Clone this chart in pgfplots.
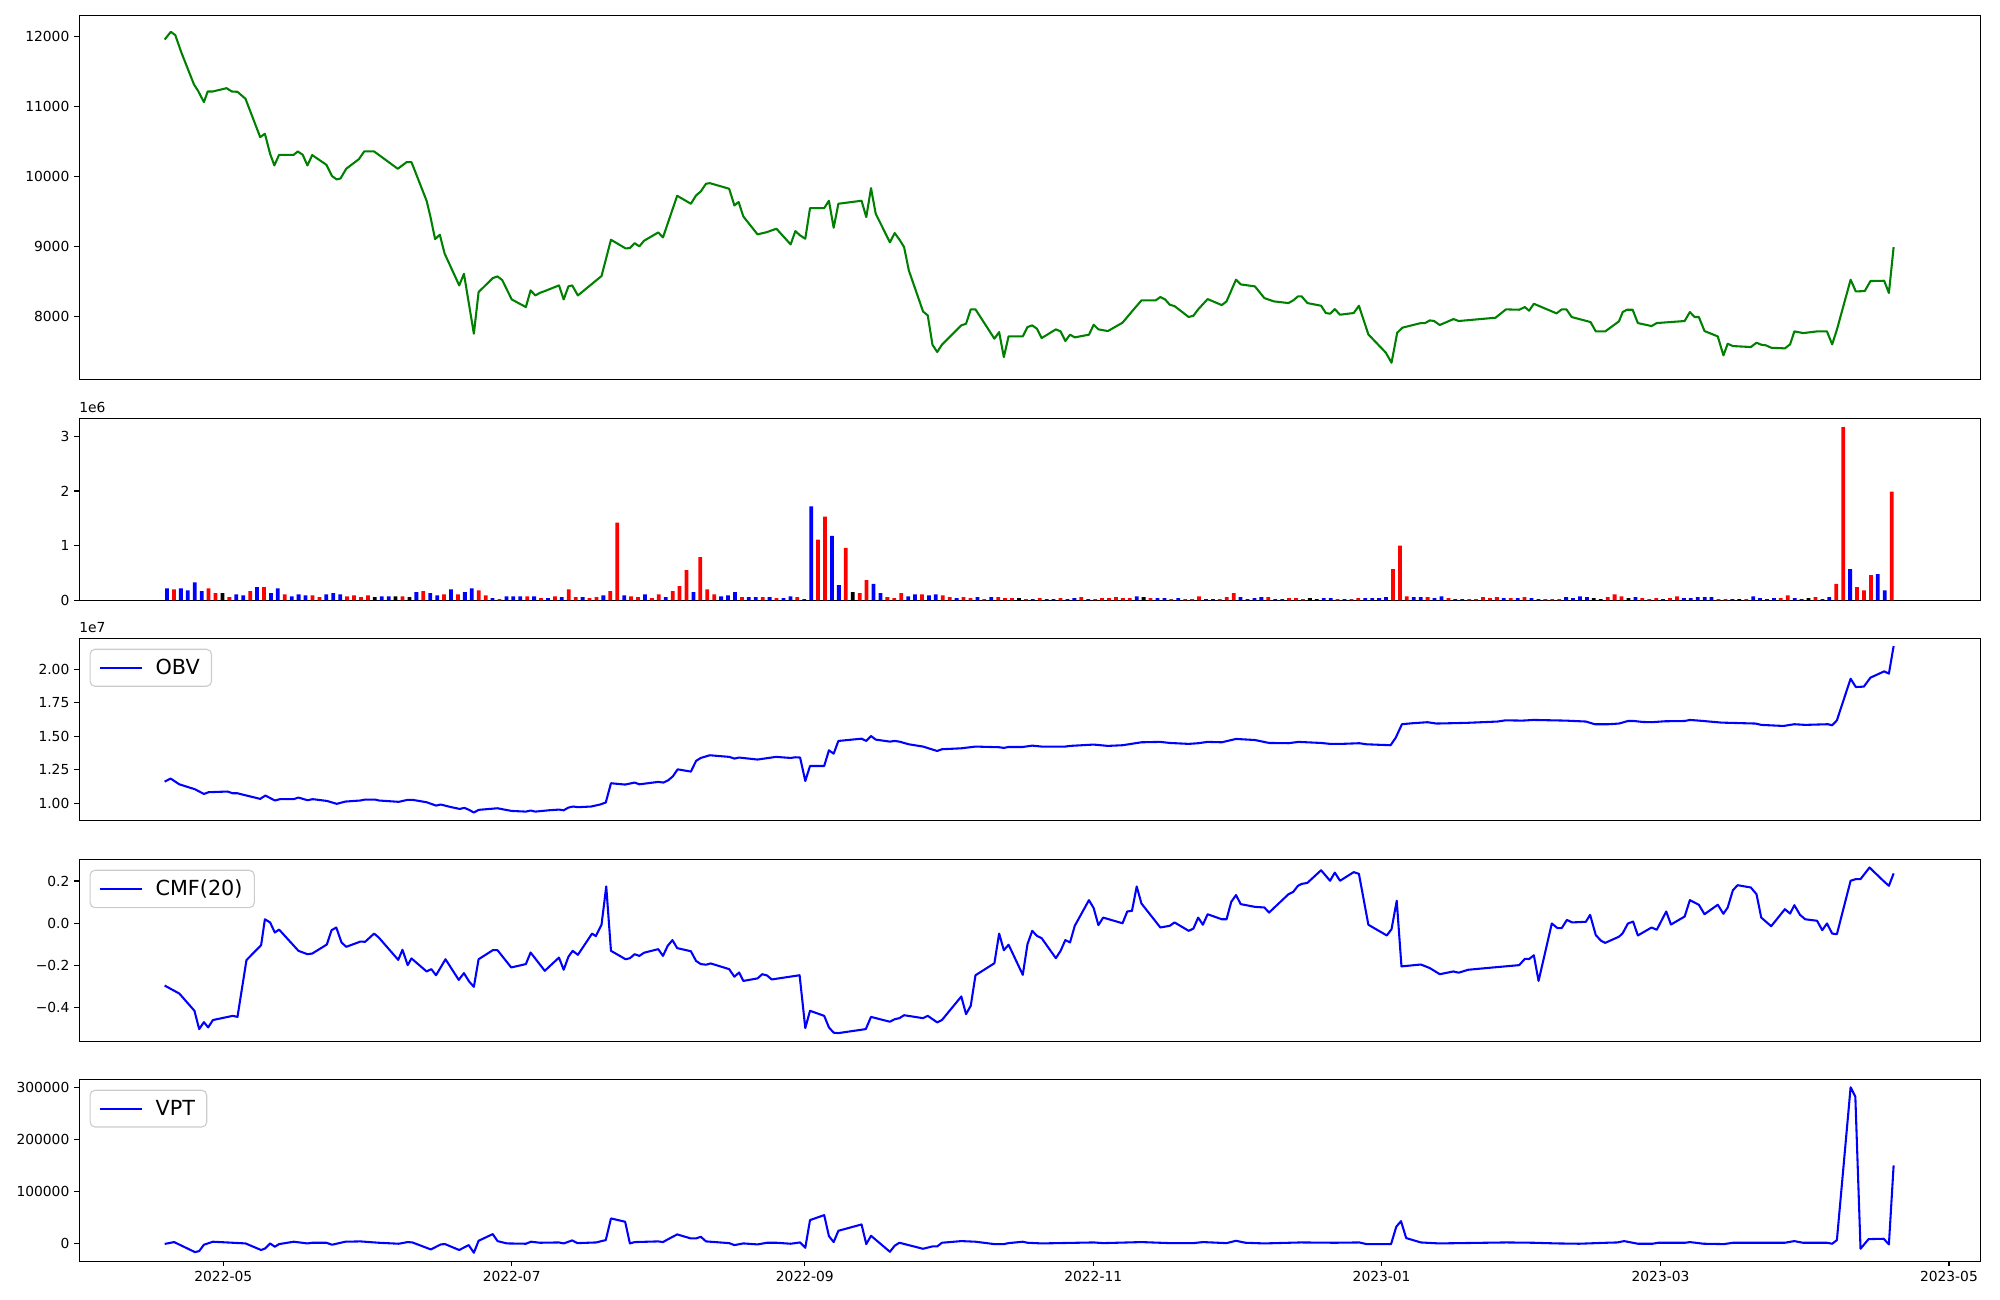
\documentclass[border=0pt]{standalone}
\usepackage{fontspec}
\setmainfont{DejaVu Sans}
\usepackage{pgfplots}
\usepackage{pgfplotstable}
\pgfplotsset{compat=1.18}

\definecolor{mplgreen}{RGB}{0,128,0}

% volume per trading day, c: 0 = up (red), 1 = down (blue), 2 = flat (black)
\pgfplotstableread[row sep=\\]{
v c\\
0.22 1\\ 0.20 0\\ 0.22 1\\ 0.18 1\\ 0.33 1\\ 0.17 1\\ 0.22 0\\ 0.13 0\\ 0.13 2\\ 0.06 0\\
0.11 1\\ 0.09 1\\ 0.17 0\\ 0.24 1\\ 0.24 0\\ 0.13 1\\ 0.22 1\\ 0.11 0\\ 0.07 1\\ 0.11 1\\
0.09 1\\ 0.09 0\\ 0.06 0\\ 0.11 1\\ 0.13 1\\ 0.11 1\\ 0.07 0\\ 0.09 0\\ 0.06 0\\ 0.09 0\\
0.06 2\\ 0.07 1\\ 0.07 1\\ 0.07 2\\ 0.07 0\\ 0.06 2\\ 0.15 1\\ 0.17 0\\ 0.13 1\\ 0.09 1\\
0.11 0\\ 0.20 1\\ 0.11 0\\ 0.15 1\\ 0.22 1\\ 0.18 0\\ 0.09 0\\ 0.04 1\\ 0.02 0\\ 0.07 1\\
0.07 1\\ 0.07 1\\ 0.07 0\\ 0.07 1\\ 0.04 0\\ 0.04 1\\ 0.07 0\\ 0.06 1\\ 0.20 0\\ 0.06 0\\
0.06 1\\ 0.04 0\\ 0.06 0\\ 0.09 1\\ 0.17 0\\ 1.42 0\\ 0.09 1\\ 0.07 0\\ 0.06 0\\ 0.11 1\\
0.04 0\\ 0.11 0\\ 0.06 1\\ 0.17 0\\ 0.26 0\\ 0.55 0\\ 0.15 1\\ 0.79 0\\ 0.20 0\\ 0.11 0\\
0.07 1\\ 0.09 1\\ 0.15 1\\ 0.06 0\\ 0.06 1\\ 0.06 1\\ 0.06 0\\ 0.06 1\\ 0.04 0\\ 0.04 1\\
0.07 1\\ 0.06 0\\ 0.02 1\\ 1.72 1\\ 1.11 0\\ 1.53 0\\ 1.18 1\\ 0.28 1\\ 0.96 0\\ 0.15 2\\
0.13 0\\ 0.37 0\\ 0.30 1\\ 0.13 1\\ 0.06 0\\ 0.04 0\\ 0.13 0\\ 0.07 1\\ 0.11 1\\ 0.11 0\\
0.09 1\\ 0.11 1\\ 0.09 0\\ 0.06 0\\ 0.04 1\\ 0.06 0\\ 0.04 0\\ 0.06 1\\ 0.02 0\\ 0.06 1\\
0.06 0\\ 0.04 0\\ 0.04 0\\ 0.04 2\\ 0.02 0\\ 0.02 1\\ 0.04 0\\ 0.02 1\\ 0.02 1\\ 0.04 0\\
0.02 1\\ 0.04 1\\ 0.06 0\\ 0.02 1\\ 0.02 0\\ 0.04 0\\ 0.04 0\\ 0.06 0\\ 0.04 0\\ 0.04 0\\
0.07 1\\ 0.06 2\\ 0.04 0\\ 0.04 1\\ 0.04 1\\ 0.02 0\\ 0.04 1\\ 0.02 0\\ 0.02 0\\ 0.07 0\\
0.02 1\\ 0.02 1\\ 0.02 0\\ 0.06 0\\ 0.13 0\\ 0.06 1\\ 0.02 1\\ 0.04 1\\ 0.06 1\\ 0.06 0\\
0.02 1\\ 0.02 1\\ 0.04 0\\ 0.04 0\\ 0.02 0\\ 0.04 2\\ 0.02 2\\ 0.04 1\\ 0.04 1\\ 0.02 0\\
0.02 1\\ 0.02 0\\ 0.04 0\\ 0.04 1\\ 0.04 1\\ 0.04 1\\ 0.06 1\\ 0.57 0\\ 1.00 0\\ 0.07 0\\
0.06 1\\ 0.06 1\\ 0.06 0\\ 0.04 1\\ 0.07 1\\ 0.04 0\\ 0.02 1\\ 0.02 1\\ 0.02 0\\ 0.02 0\\
0.06 0\\ 0.04 0\\ 0.06 0\\ 0.04 1\\ 0.04 0\\ 0.04 1\\ 0.06 0\\ 0.04 1\\ 0.02 1\\ 0.02 0\\
0.02 0\\ 0.02 0\\ 0.06 1\\ 0.04 1\\ 0.07 1\\ 0.06 1\\ 0.04 2\\ 0.02 2\\ 0.06 0\\ 0.11 0\\
0.07 0\\ 0.04 2\\ 0.06 1\\ 0.04 0\\ 0.02 0\\ 0.04 0\\ 0.02 1\\ 0.04 0\\ 0.07 0\\ 0.04 1\\
0.04 1\\ 0.06 1\\ 0.06 1\\ 0.06 1\\ 0.02 0\\ 0.02 0\\ 0.02 1\\ 0.02 2\\ 0.02 0\\ 0.07 1\\
0.04 1\\ 0.02 1\\ 0.04 1\\ 0.04 0\\ 0.09 0\\ 0.04 1\\ 0.02 1\\ 0.04 2\\ 0.06 0\\ 0.02 1\\
0.06 1\\ 0.30 0\\ 3.17 0\\ 0.57 1\\ 0.24 0\\ 0.18 0\\ 0.46 0\\ 0.48 1\\ 0.18 1\\ 1.99 0\\
}\voltable

\pgfplotsset{
  panel/.style={
    scale only axis, width=19.01in, anchor=north west,
    xmin=-30.5, xmax=371.6,
    scaled ticks=false,
    axis line style={line width=0.8pt},
    every tick/.style={black, line width=0.8pt},
    tick align=outside, major tick length=0.0486in,
    tick pos=left,
    tick label style={font=\fontsize{10}{12}\selectfont},
    clip mode=individual,
    legend style={at={(0,1)}, anchor=north west, xshift=0.104in, yshift=-0.104in,
      draw=black!20, line width=0.8pt, rounded corners=0.05in, fill=white,
      font=\fontsize{15}{18}\selectfont, inner xsep=0.09in, inner ysep=0.07in,
      column sep=0.1in},
    legend cell align=left,
    legend image code/.code={\draw[##1, line width=1.5pt] (0in,0in) -- (0.417in,0in);},
  },
  bars/.style={ybar, bar width=0.8, bar shift=0pt, draw=none, fill=#1},
}

\begin{document}
\begin{tikzpicture}
\useasboundingbox (0,0) rectangle (20in,-13in);

% price
\begin{axis}[panel, at={(0.791in,-0.153in)}, height=3.64in,
  ymin=7108, ymax=12298, xtick=\empty,
  ytick={8000,9000,10000,11000,12000}, yticklabels={8000,9000,10000,11000,12000}]
\addplot[mplgreen, line width=1.5pt, line join=round] coordinates {
(-12.4,11953) (-11.1,12062) (-10.15,12015) (-8.9,11773) (-7.65,11559) (-6.2,11312) (-5.3,11217) (-4.1,11060) (-3.3,11212) (-2.2,11212)
(0.7,11259) (1.8,11212) (3.0,11207) (4.7,11107) (7.8,10561) (8.8,10609) (9.9,10323) (10.8,10157) (11.8,10309) (14.9,10309)
(15.75,10357) (16.8,10309) (17.8,10157) (18.8,10305) (21.8,10167) (23.0,10005) (24.0,9958) (24.8,9972) (26.0,10110) (28.7,10248)
(29.8,10357) (31.9,10357) (36.9,10110) (38.8,10205) (39.8,10205) (43.0,9654) (43.8,9430) (44.8,9107) (45.8,9169) (46.8,8903)
(49.9,8447) (50.9,8613) (53.0,7758) (54.0,8352) (57.0,8551) (58.0,8575) (59.0,8523) (61.0,8247) (64.0,8138) (65.0,8376)
(66.0,8304) (67.0,8342) (68.0,8366) (71.0,8447) (72.0,8247) (73.0,8433) (73.8,8447) (75.0,8304) (80.0,8580) (82.0,9098)
(85.1,8974) (86.0,8979) (87.0,9050) (88.0,9003) (89.0,9084) (92.0,9202) (93.0,9131) (96.0,9725) (98.9,9611) (100.0,9730)
(101.0,9787) (102.1,9896) (102.9,9905) (107.0,9825) (108.1,9587) (109.0,9635) (110.0,9430) (113.0,9174) (115.0,9207) (117.0,9255)
(120.0,9031) (121.0,9221) (122.0,9160) (123.1,9112) (124.1,9549) (127.1,9549) (128.1,9654) (129.1,9269) (130.1,9611) (135.0,9654)
(136.0,9421) (137.0,9834) (138.0,9468) (141.0,9060) (142.0,9193) (143.0,9102) (144.0,8993) (145.0,8661) (148.0,8076) (149.0,8019)
(150.0,7601) (151.0,7497) (152.0,7601) (156.1,7877) (157.1,7900) (158.1,8105) (159.1,8105) (163.1,7687) (164.1,7781) (165.1,7425)
(166.1,7720) (169.1,7720) (170.1,7853) (171.1,7877) (172.1,7829) (173.1,7696) (176.1,7820) (177.1,7791) (178.1,7654) (179.1,7744)
(180.1,7706) (183.1,7744) (184.1,7886) (185.1,7820) (187.1,7796) (190.2,7915) (192.2,8076) (194.2,8233) (197.2,8233) (198.2,8281)
(199.2,8247) (200.2,8171) (201.2,8152) (204.2,7996) (205.2,8015) (206.2,8105) (208.2,8252) (211.2,8166) (212.2,8219) (214.2,8528)
(215.2,8461) (218.2,8433) (220.2,8266) (222.2,8219) (225.3,8195) (226.3,8233) (227.3,8290) (228.1,8290) (229.3,8195) (232.2,8157)
(233.2,8053) (234.1,8043) (235.1,8109) (236.2,8029) (239.1,8053) (240.2,8157) (242.2,7748) (245.9,7487) (247.1,7344) (248.3,7772)
(249.4,7844) (253.3,7910) (254.2,7910) (255.2,7948) (256.1,7939) (257.3,7882) (260.2,7967) (261.3,7939) (269.1,7986) (271.3,8105)
(274.1,8100) (275.3,8138) (276.2,8086) (277.2,8185) (282.0,8048) (283.1,8105) (284.1,8105) (285.2,7996) (289.2,7924) (290.3,7791)
(292.3,7791) (295.2,7934) (296.0,8067) (296.9,8100) (298.1,8100) (299.2,7910) (302.1,7867) (303.2,7910) (309.1,7939) (310.2,8067)
(311.2,7996) (312.1,7996) (313.3,7796) (316.1,7720) (317.3,7449) (318.2,7615) (319.3,7582) (323.1,7568) (324.3,7630) (325.3,7601)
(326.3,7592) (327.4,7558) (330.3,7549) (331.4,7606) (332.3,7791) (334.2,7767) (337.1,7791) (339.2,7791) (340.3,7606) (341.3,7815)
(344.2,8528) (345.3,8361) (347.2,8366) (348.4,8509) (351.3,8513) (352.3,8338) (353.3,8993)
};
\end{axis}

% volume
\begin{axis}[panel, at={(0.791in,-4.183in)}, height=1.82in,
  ymin=0, ymax=3.33, xtick=\empty,
  ytick={0,1,2,3}, yticklabels={0,1,2,3}]
\addplot[bars=red] table[x expr=-11.9+\coordindex*1.465, y=v,
  restrict expr to domain={\thisrow{c}}{0:0}] {\voltable};
\addplot[bars=blue] table[x expr=-11.9+\coordindex*1.465, y=v,
  restrict expr to domain={\thisrow{c}}{1:1}] {\voltable};
\addplot[bars=black] table[x expr=-11.9+\coordindex*1.465, y=v,
  restrict expr to domain={\thisrow{c}}{2:2}] {\voltable};
\node[anchor=south west, inner sep=0pt, font=\fontsize{10}{12}\selectfont]
  at (rel axis cs:0,1) [yshift=0.05in] {1e6};
\end{axis}

% OBV
\begin{axis}[panel, at={(0.791in,-6.383in)}, height=1.82in,
  ymin=0.872, ymax=2.232, xtick=\empty,
  ytick={1,1.25,1.5,1.75,2}, yticklabels={1.00,1.25,1.50,1.75,2.00}]
\addplot[blue, line width=1.5pt, line join=round] coordinates {
(-12.4,1.161) (-11.15,1.184) (-9.3,1.141) (-6.0,1.104) (-4.1,1.069) (-3.1,1.082) (0.9,1.087) (2.0,1.074) (3.0,1.074) (7.8,1.032)
(8.9,1.057) (10.9,1.020) (12.0,1.030) (14.9,1.030) (15.9,1.042) (17.8,1.022) (18.9,1.030) (21.9,1.017) (24.0,0.995) (25.8,1.012)
(29.0,1.020) (30.0,1.027) (32.1,1.027) (32.9,1.020) (37.1,1.010) (39.0,1.025) (40.0,1.025) (43.0,1.007) (45.0,0.982) (46.0,0.990)
(48.0,0.972) (50.0,0.957) (51.0,0.965) (52.0,0.950) (53.0,0.930) (54.0,0.950) (58.0,0.962) (59.0,0.955) (61.0,0.942) (64.0,0.937)
(65.0,0.945) (66.0,0.937) (68.9,0.947) (71.0,0.952) (72.0,0.947) (73.0,0.967) (74.0,0.975) (75.0,0.970) (77.8,0.975) (79.7,0.990)
(80.9,1.005) (82.0,1.149) (85.0,1.139) (87.0,1.154) (88.0,1.141) (92.0,1.159) (93.1,1.154) (94.1,1.171) (95.1,1.201) (96.1,1.253)
(98.9,1.236) (100.0,1.316) (101.0,1.338) (102.9,1.358) (107.0,1.346) (108.1,1.333) (109.1,1.341) (113.0,1.326) (116.9,1.346) (120.0,1.338)
(121.0,1.343) (122.0,1.341) (123.1,1.166) (124.1,1.278) (127.1,1.278) (128.1,1.395) (129.1,1.370) (130.1,1.465) (135.0,1.482) (136.0,1.465)
(137.0,1.502) (138.0,1.475) (141.0,1.460) (142.0,1.465) (143.0,1.460) (145.0,1.440) (148.0,1.423) (151.0,1.390) (152.0,1.403) (156.1,1.410)
(159.1,1.423) (164.1,1.418) (165.1,1.413) (166.1,1.420) (169.1,1.420) (171.1,1.430) (173.1,1.423) (178.1,1.423) (179.1,1.428) (184.1,1.438)
(187.1,1.428) (190.2,1.433) (194.2,1.455) (198.2,1.458) (200.2,1.450) (204.2,1.443) (206.2,1.448) (208.2,1.458) (211.2,1.455) (214.2,1.480)
(218.2,1.472) (221.2,1.450) (225.3,1.448) (227.4,1.458) (232.2,1.450) (234.1,1.443) (236.5,1.443) (240.3,1.448) (241.8,1.440) (246.9,1.433)
(248.0,1.490) (249.3,1.590) (251.4,1.597) (254.7,1.605) (256.6,1.595) (262.8,1.600) (269.5,1.610) (271.2,1.619) (274.8,1.617) (277.2,1.622)
(283.9,1.617) (288.2,1.610) (290.1,1.590) (293.0,1.590) (295.2,1.595) (297.1,1.614) (298.4,1.614) (300.2,1.607) (302.1,1.605) (304.9,1.612)
(309.1,1.614) (310.2,1.622) (312.1,1.617) (316.9,1.602) (324.1,1.595) (325.3,1.585) (330.0,1.577) (332.3,1.590) (334.6,1.585) (339.4,1.590)
(340.3,1.582) (341.3,1.619) (344.2,1.930) (345.3,1.868) (347.0,1.871) (348.4,1.938) (351.3,1.985) (352.3,1.968) (353.3,2.174)
};
\addlegendentry{OBV}
\node[anchor=south west, inner sep=0pt, font=\fontsize{10}{12}\selectfont]
  at (rel axis cs:0,1) [yshift=0.05in] {1e7};
\end{axis}

% CMF
\begin{axis}[panel, at={(0.791in,-8.593in)}, height=1.82in,
  ymin=-0.562, ymax=0.303, xtick=\empty,
  ytick={-0.4,-0.2,0,0.2}, yticklabels={−0.4,−0.2,0.0,0.2}]
\addplot[blue, line width=1.5pt, line join=round] coordinates {
(-12.4,-0.297) (-9.3,-0.335) (-6.1,-0.417) (-5.1,-0.504) (-4.1,-0.471) (-3.2,-0.496) (-2.2,-0.461) (2.0,-0.441) (3.0,-0.446) (4.9,-0.176)
(8.0,-0.105) (8.8,0.018) (9.9,0.003) (10.9,-0.045) (11.8,-0.031) (15.9,-0.132) (17.8,-0.148) (18.8,-0.145) (21.9,-0.102) (22.9,-0.034)
(23.9,-0.021) (25.0,-0.092) (26.0,-0.113) (29.0,-0.088) (30.0,-0.089) (31.9,-0.050) (32.9,-0.069) (37.0,-0.175) (37.9,-0.127) (39.0,-0.200)
(39.8,-0.168) (43.0,-0.230) (44.0,-0.219) (45.0,-0.248) (47.0,-0.172) (49.8,-0.270) (50.9,-0.238) (52.0,-0.278) (53.0,-0.303) (54.0,-0.172)
(57.0,-0.129) (58.0,-0.129) (60.9,-0.211) (64.0,-0.195) (65.0,-0.140) (68.0,-0.227) (71.0,-0.164) (72.0,-0.222) (73.0,-0.160) (73.9,-0.132)
(75.0,-0.151) (78.0,-0.050) (78.8,-0.062) (80.0,-0.008) (81.0,0.174) (82.0,-0.132) (85.1,-0.172) (86.0,-0.167) (87.0,-0.148) (88.0,-0.156)
(89.0,-0.141) (92.0,-0.124) (93.0,-0.156) (94.0,-0.108) (95.0,-0.081) (96.0,-0.119) (98.9,-0.134) (100.0,-0.180) (101.0,-0.195) (102.1,-0.198)
(103.1,-0.192) (107.0,-0.219) (108.1,-0.255) (109.1,-0.235) (110.0,-0.275) (113.0,-0.263) (114.0,-0.243) (115.0,-0.249) (116.0,-0.268) (121.9,-0.248)
(123.1,-0.499) (124.1,-0.417) (127.1,-0.441) (128.1,-0.496) (129.1,-0.521) (130.1,-0.523) (135.9,-0.504) (137.0,-0.446) (141.0,-0.469) (142.0,-0.457)
(143.0,-0.452) (144.0,-0.438) (148.0,-0.452) (149.0,-0.441) (151.0,-0.472) (152.0,-0.461) (156.1,-0.349) (157.1,-0.433) (158.1,-0.393) (159.1,-0.248)
(163.1,-0.191) (164.1,-0.050) (165.1,-0.129) (166.1,-0.103) (169.1,-0.246) (170.1,-0.100) (171.1,-0.037) (172.1,-0.061) (173.1,-0.072) (176.1,-0.167)
(177.1,-0.132) (178.1,-0.081) (179.1,-0.092) (180.1,-0.013) (183.1,0.109) (184.1,0.071) (185.1,-0.010) (186.1,0.026) (190.2,-0.001) (191.2,0.055)
(192.2,0.058) (193.2,0.174) (194.2,0.093) (198.2,-0.021) (200.2,-0.013) (201.2,0.003) (204.2,-0.037) (205.2,-0.026) (206.2,0.026) (207.2,-0.008)
(208.2,0.042) (211.2,0.018) (212.2,0.018) (213.2,0.101) (214.2,0.133) (215.2,0.090) (218.2,0.077) (220.2,0.074) (221.2,0.050) (225.3,0.137)
(226.3,0.148) (227.3,0.177) (228.1,0.186) (229.3,0.191) (232.2,0.251) (234.1,0.201) (235.1,0.240) (236.2,0.201) (239.1,0.242) (240.2,0.234)
(241.0,0.137) (242.2,-0.008) (246.1,-0.059) (247.1,-0.029) (248.2,0.106) (249.2,-0.206) (253.3,-0.197) (255.2,-0.214) (257.3,-0.243) (260.2,-0.230)
(261.3,-0.236) (263.3,-0.222) (268.6,-0.211) (274.1,-0.200) (275.3,-0.170) (276.2,-0.171) (277.2,-0.153) (278.2,-0.275) (281.0,-0.002) (282.2,-0.024)
(283.1,-0.024) (284.2,0.015) (285.3,0.003) (288.2,0.006) (289.1,0.039) (290.3,-0.057) (291.4,-0.084) (292.3,-0.094) (295.2,-0.065) (296.0,-0.048)
(297.1,-0.002) (298.2,0.007) (299.2,-0.059) (302.1,-0.021) (303.2,-0.032) (305.2,0.055) (306.2,-0.007) (309.1,0.031) (310.2,0.109) (312.1,0.087)
(313.3,0.042) (316.1,0.087) (317.3,0.044) (318.2,0.074) (319.3,0.156) (320.3,0.180) (323.1,0.169) (324.3,0.137) (325.3,0.026) (327.4,-0.015)
(330.3,0.066) (331.4,0.045) (332.3,0.085) (333.5,0.039) (334.6,0.018) (337.1,0.011) (338.2,-0.034) (339.2,-0.002) (340.3,-0.050) (341.3,-0.053)
(344.2,0.201) (345.3,0.209) (346.3,0.209) (348.2,0.264) (351.3,0.197) (352.3,0.177) (353.3,0.236)
};
\addlegendentry{CMF(20)}
\end{axis}

% VPT
\begin{axis}[panel, at={(0.791in,-10.793in)}, height=1.82in,
  ymin=-34500, ymax=316500,
  ytick={0,100000,200000,300000}, yticklabels={0,100000,200000,300000},
  xtick={0,61,123,184,245,304,365},
  xticklabels={2022-05,2022-07,2022-09,2022-11,2023-01,2023-03,2023-05}]
\addplot[blue, line width=1.5pt, line join=round] coordinates {
(-12.4,-1000) (-10.4,2600) (-6.0,-16700) (-5.1,-14800) (-4.1,-2500) (-2.2,3300) (4.7,0) (8.0,-12700) (8.9,-9500) (9.9,0)
(10.9,-6400) (11.8,-1300) (14.9,3300) (17.8,0) (18.8,1300) (21.8,1300) (23.0,-2500) (25.8,3300) (29.0,3900) (32.9,1300)
(37.1,-600) (39.0,2600) (40.0,1900) (43.9,-11600) (46.0,-1900) (46.9,-1300) (49.9,-12700) (51.9,-3200) (53.0,-18000) (54.0,5100)
(57.0,18000) (58.0,4500) (60.0,0) (64.0,-600) (65.1,3300) (67.0,1300) (71.0,1900) (72.0,0) (73.8,5800) (74.9,600)
(78.9,1900) (80.0,4500) (80.9,6400) (82.0,48200) (85.0,41800) (86.0,0) (87.0,2600) (92.0,3900) (93.0,2600) (94.0,7700)
(96.0,17400) (98.9,9600) (100.0,9600) (101.0,12900) (102.1,3900) (107.0,600) (108.1,-3200) (110.0,0) (113.0,-1900) (115.0,1300)
(117.0,1300) (120.0,-600) (122.0,1900) (123.1,-8400) (124.1,45000) (127.1,54600) (128.1,14100) (129.1,2600) (130.1,24400) (135.0,36600)
(136.0,-1300) (137.0,14800) (141.0,-16100) (142.0,-4500) (143.0,1300) (148.0,-10300) (150.0,-5800) (151.0,-5800) (152.0,1300) (156.1,4500)
(159.1,3300) (163.1,-1300) (165.1,-1300) (166.1,600) (169.1,3300) (170.1,1300) (173.1,0) (184.1,1900) (186.1,600) (194.2,2600)
(200.2,600) (205.2,600) (207.2,2600) (212.2,600) (214.2,5100) (216.2,1300) (220.2,0) (227.9,1900) (235.1,1300) (240.3,1900)
(241.8,-1300) (247.0,-1300) (248.1,32100) (249.1,43000) (250.2,10300) (253.3,1900) (257.1,0) (271.4,1900) (277.2,1300) (282.0,0)
(286.8,-600) (292.5,1300) (294.9,1900) (296.3,4500) (299.2,-600) (302.3,-600) (303.5,1300) (309.2,1300) (310.2,2600) (313.1,-600)
(317.4,-1300) (319.3,1300) (330.3,1300) (332.3,4500) (334.1,1300) (339.2,1300) (340.3,-600) (341.3,6400) (344.2,301100) (345.2,283100)
(346.3,-10300) (348.0,8300) (351.2,9000) (352.3,-1900) (353.3,150600)
};
\addlegendentry{VPT}
\end{axis}
\end{tikzpicture}
\end{document}
